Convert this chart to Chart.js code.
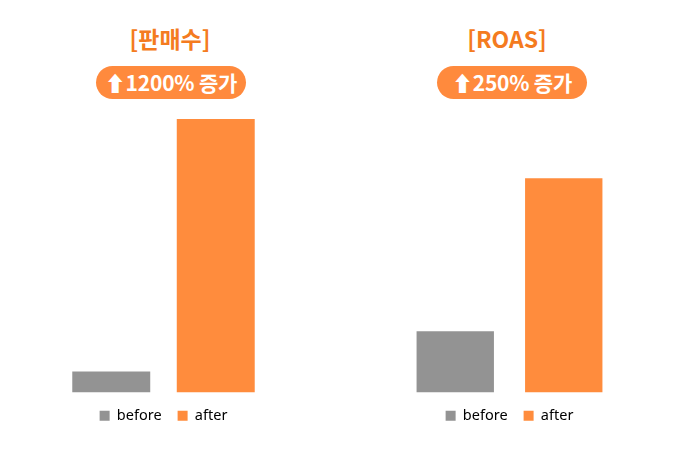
<!DOCTYPE html>
<html>
<head>
<meta charset="utf-8">
<script src="https://cdn.jsdelivr.net/npm/chart.js@4"></script>
<style>
  html, body { margin: 0; padding: 0; background: #fff; }
  #wrap { position: relative; width: 675px; height: 450px; overflow: hidden; font-family: "Noto Sans CJK KR", "Noto Sans", sans-serif; }
  .title { position: absolute; top: 20px; width: 200px; text-align: center; color: #F47B20; font-weight: 700; font-size: 23px; line-height: 36px; }
  .pill { position: absolute; top: 66px; width: 150px; height: 33px; border-radius: 17px; background: #FF8A3D; color: #fff; font-weight: 700; font-size: 21px; line-height: 33px; text-align: center; letter-spacing: -0.2px; }
  canvas { position: absolute; }
</style>
</head>
<body>
<div id="wrap">
  <div class="title" style="left:70px">[판매수]</div>
  <div class="pill" style="left:96px">⬆1200% 증가</div>
  <div class="title" style="left:407px">[ROAS]</div>
  <div class="pill" style="left:437px">⬆250% 증가</div>
  <canvas id="c1" width="209" height="314" style="left:59px; top:119px"></canvas>
  <canvas id="c2" width="217" height="314" style="left:401px; top:119px"></canvas>
</div>
<script>
const categories = ['before', 'after'];
const salesValues = [1, 13];      // 판매수 (relative, +1200%)
const roasValues = [1, 3.5];      // ROAS (relative, +250%)
const barColors = ['#939393', '#FF8C3D'];

function makeChart(id, values, yMax, barPct) {
  new Chart(document.getElementById(id), {
    type: 'bar',
    data: {
      labels: categories,
      datasets: [{ data: values, backgroundColor: barColors, borderWidth: 0,
                   categoryPercentage: 1, barPercentage: barPct }]
    },
    options: {
      responsive: false,
      animation: false,
      layout: { padding: 0 },
      scales: {
        x: { display: false },
        y: { display: false, min: 0, max: yMax }
      },
      plugins: {
        tooltip: { enabled: false },
        legend: {
          position: 'bottom',
          labels: {
            boxWidth: 10, boxHeight: 10, padding: 16,
            color: '#222',
            font: { family: '"Noto Sans", sans-serif', size: 14.5 },
            generateLabels: () => categories.map((c, i) => ({
              text: c, fillStyle: barColors[i], strokeStyle: barColors[i], lineWidth: 0, hidden: false, index: i
            }))
          }
        }
      }
    }
  });
}
makeChart('c1', salesValues, 13, 0.746);
makeChart('c2', roasValues, 4.47, 0.713);
</script>
</body>
</html>
